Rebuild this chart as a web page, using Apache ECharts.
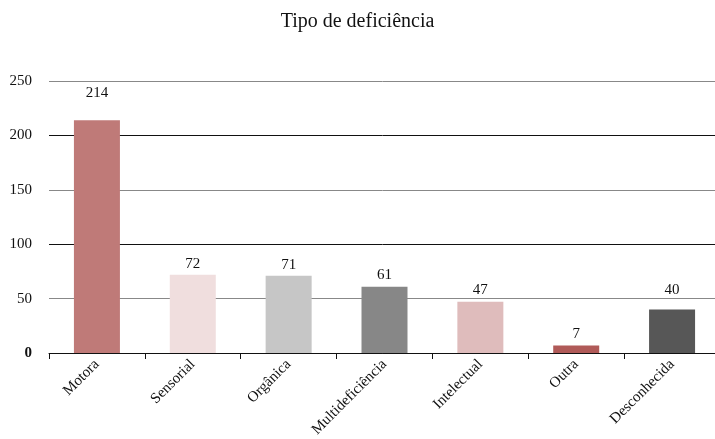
<!DOCTYPE html>
<html>
<head>
<meta charset="utf-8">
<script src="https://cdn.jsdelivr.net/npm/echarts@6/dist/echarts.min.js"></script>
<style>
  html, body { margin: 0; padding: 0; background: #fff; }
  #chart { width: 715px; height: 439px; }
</style>
</head>
<body>
<div id="chart"></div>
<script>
// Deficiency types and counts
const categories = ['Motora', 'Sensorial', 'Orgânica', 'Multideficiência', 'Intelectual', 'Outra', 'Desconhecida'];
const counts = [214, 72, 71, 61, 47, 7, 40];
const yTicks = [0, 50, 100, 150, 200, 250];

// Per-bar styling
const barColors = ['#bf7a78', '#f0dede', '#c6c6c6', '#878787', '#dfbcbc', '#b05a58', '#575757'];
const labelGaps = [20, 3, 3, 4, 4, 4, 12];

const FONT = '"Liberation Serif", "DejaVu Serif", serif';

const chart = echarts.init(document.getElementById('chart'));
chart.setOption({
  animation: false,
  backgroundColor: '#fff',
  title: {
    text: 'Tipo de deficiência',
    left: 'center',
    top: 7,
    textStyle: { fontFamily: FONT, fontSize: 20, fontWeight: 'normal', color: '#111' }
  },
  grid: { left: 49, top: 81, right: -5, bottom: 86, containLabel: false, outerBoundsMode: 'none' },
  xAxis: {
    type: 'category',
    data: categories,
    axisLine: { lineStyle: { color: '#111', width: 1 } },
    axisTick: { show: true, length: 6, lineStyle: { color: '#111' } },
    axisLabel: {
      rotate: 45,
      margin: 9,
      fontFamily: FONT,
      fontSize: 15,
      color: '#111'
    }
  },
  yAxis: {
    type: 'value',
    min: yTicks[0],
    max: yTicks[yTicks.length - 1],
    interval: 50,
    axisLine: { show: false },
    axisTick: { show: false },
    axisLabel: {
      margin: 17,
      fontFamily: FONT,
      fontSize: 15,
      color: '#111',
      formatter: v => (v === 0 ? '{z|0}' : String(v)),
      rich: { z: { fontFamily: FONT, fontSize: 15, fontWeight: 'bold', color: '#111' } }
    },
    splitLine: { lineStyle: { color: ['#111', '#888'], width: 1 } }
  },
  series: [{
    type: 'bar',
    barWidth: 46,
    data: counts.map((v, i) => ({
      value: v,
      itemStyle: { color: barColors[i] },
      label: { distance: labelGaps[i] }
    })),
    label: {
      show: true,
      position: 'top',
      fontFamily: FONT,
      fontSize: 15,
      color: '#111'
    }
  }]
});
</script>
</body>
</html>
